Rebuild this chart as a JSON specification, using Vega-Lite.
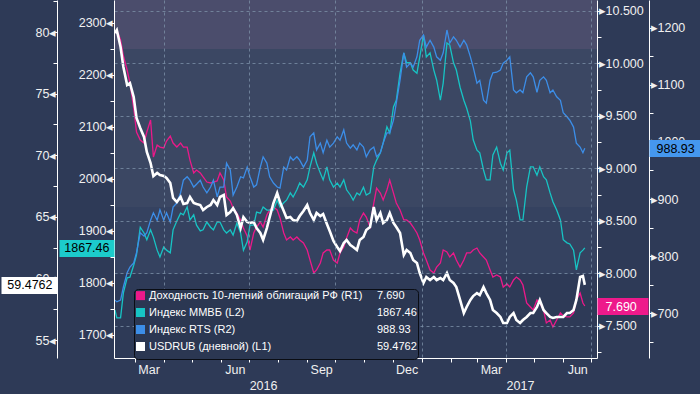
{
"$schema": "https://vega.github.io/schema/vega-lite/v6.json",
"width": 483, "height": 358,
"autosize": {"type": "none"},
"padding": {"left": 114, "right": 103, "top": 0, "bottom": 36},
"background": "#2e3a57",
"config": {
  "view": {"stroke": null},
  "font": "Liberation Sans",
  "axis": {"labelFont": "Liberation Sans", "labelFontSize": 12.5, "labelColor": "#f0f0f0", "domainColor": "#ffffff", "tickColor": "#ffffff", "labelOverlap": false, "labelFlush": false, "grid": false}
},
"datasets": {
"main": [
{"d":"2016-02-09","usd":79.92,"y10":10.288,"mmvb":1748,"rts":723},
{"d":"2016-02-11","usd":80.16,"y10":10.316,"mmvb":1733,"rts":720},
{"d":"2016-02-15","usd":78.78,"y10":10.221,"mmvb":1733,"rts":723},
{"d":"2016-02-18","usd":77.16,"y10":10.069,"mmvb":1781,"rts":746},
{"d":"2016-02-22","usd":75.70,"y10":9.936,"mmvb":1810,"rts":771},
{"d":"2016-02-25","usd":75.86,"y10":9.812,"mmvb":1811,"rts":781},
{"d":"2016-02-29","usd":74.72,"y10":9.574,"mmvb":1834,"rts":788},
{"d":"2016-03-03","usd":73.02,"y10":9.346,"mmvb":1854,"rts":806},
{"d":"2016-03-07","usd":72.21,"y10":9.270,"mmvb":1907,"rts":841},
{"d":"2016-03-11","usd":71.48,"y10":9.241,"mmvb":1896,"rts":835},
{"d":"2016-03-14","usd":70.26,"y10":9.346,"mmvb":1883,"rts":841},
{"d":"2016-03-18","usd":69.37,"y10":9.460,"mmvb":1902,"rts":863},
{"d":"2016-03-21","usd":68.31,"y10":9.108,"mmvb":1888,"rts":876},
{"d":"2016-03-25","usd":68.56,"y10":9.222,"mmvb":1863,"rts":863},
{"d":"2016-03-28","usd":68.39,"y10":9.203,"mmvb":1850,"rts":881},
{"d":"2016-04-01","usd":68.31,"y10":9.194,"mmvb":1869,"rts":863},
{"d":"2016-04-04","usd":68.15,"y10":9.260,"mmvb":1863,"rts":876},
{"d":"2016-04-08","usd":67.74,"y10":9.308,"mmvb":1858,"rts":860},
{"d":"2016-04-11","usd":66.53,"y10":9.241,"mmvb":1902,"rts":886},
{"d":"2016-04-15","usd":66.20,"y10":9.203,"mmvb":1919,"rts":893},
{"d":"2016-04-19","usd":66.61,"y10":9.241,"mmvb":1934,"rts":911},
{"d":"2016-04-22","usd":66.04,"y10":9.203,"mmvb":1931,"rts":933},
{"d":"2016-04-26","usd":66.12,"y10":9.203,"mmvb":1946,"rts":939},
{"d":"2016-04-29","usd":66.61,"y10":9.079,"mmvb":1921,"rts":933},
{"d":"2016-05-03","usd":66.12,"y10":8.956,"mmvb":1931,"rts":921},
{"d":"2016-05-06","usd":66.04,"y10":8.984,"mmvb":1911,"rts":926},
{"d":"2016-05-10","usd":65.96,"y10":8.956,"mmvb":1900,"rts":933},
{"d":"2016-05-13","usd":65.55,"y10":8.918,"mmvb":1902,"rts":921},
{"d":"2016-05-17","usd":65.80,"y10":8.870,"mmvb":1917,"rts":911},
{"d":"2016-05-21","usd":65.96,"y10":8.861,"mmvb":1907,"rts":921},
{"d":"2016-05-24","usd":66.36,"y10":8.870,"mmvb":1902,"rts":933},
{"d":"2016-05-28","usd":65.96,"y10":8.880,"mmvb":1917,"rts":904},
{"d":"2016-05-31","usd":66.61,"y10":8.956,"mmvb":1917,"rts":921},
{"d":"2016-06-04","usd":66.77,"y10":8.889,"mmvb":1902,"rts":921},
{"d":"2016-06-07","usd":65.15,"y10":8.727,"mmvb":1896,"rts":963},
{"d":"2016-06-11","usd":65.39,"y10":8.689,"mmvb":1902,"rts":951},
{"d":"2016-06-14","usd":65.71,"y10":8.623,"mmvb":1892,"rts":907},
{"d":"2016-06-18","usd":65.15,"y10":8.575,"mmvb":1915,"rts":921},
{"d":"2016-06-22","usd":64.09,"y10":8.509,"mmvb":1896,"rts":939},
{"d":"2016-06-25","usd":64.98,"y10":8.432,"mmvb":1863,"rts":937},
{"d":"2016-06-29","usd":64.58,"y10":8.356,"mmvb":1879,"rts":956},
{"d":"2016-07-02","usd":64.50,"y10":8.223,"mmvb":1911,"rts":939},
{"d":"2016-07-06","usd":64.58,"y10":8.385,"mmvb":1911,"rts":921},
{"d":"2016-07-09","usd":64.09,"y10":8.442,"mmvb":1936,"rts":925},
{"d":"2016-07-13","usd":63.69,"y10":8.490,"mmvb":1934,"rts":956},
{"d":"2016-07-16","usd":63.12,"y10":8.442,"mmvb":1946,"rts":974},
{"d":"2016-07-20","usd":64.09,"y10":8.556,"mmvb":1940,"rts":963},
{"d":"2016-07-23","usd":64.98,"y10":8.604,"mmvb":1940,"rts":939},
{"d":"2016-07-27","usd":66.12,"y10":8.632,"mmvb":1940,"rts":928},
{"d":"2016-07-31","usd":66.93,"y10":8.604,"mmvb":1959,"rts":921},
{"d":"2016-08-03","usd":66.20,"y10":8.528,"mmvb":1946,"rts":919},
{"d":"2016-08-07","usd":65.47,"y10":8.385,"mmvb":1954,"rts":956},
{"d":"2016-08-10","usd":64.90,"y10":8.318,"mmvb":1959,"rts":951},
{"d":"2016-08-14","usd":64.98,"y10":8.347,"mmvb":1973,"rts":974},
{"d":"2016-08-17","usd":64.74,"y10":8.318,"mmvb":1965,"rts":968},
{"d":"2016-08-21","usd":64.66,"y10":8.347,"mmvb":1979,"rts":974},
{"d":"2016-08-24","usd":65.06,"y10":8.318,"mmvb":1992,"rts":968},
{"d":"2016-08-28","usd":65.47,"y10":8.290,"mmvb":1984,"rts":956},
{"d":"2016-09-01","usd":65.96,"y10":8.223,"mmvb":1998,"rts":968},
{"d":"2016-09-04","usd":65.31,"y10":8.128,"mmvb":2023,"rts":1009},
{"d":"2016-09-08","usd":64.74,"y10":8.004,"mmvb":2050,"rts":1016},
{"d":"2016-09-11","usd":65.31,"y10":8.033,"mmvb":2030,"rts":986},
{"d":"2016-09-15","usd":65.06,"y10":8.099,"mmvb":2011,"rts":998},
{"d":"2016-09-18","usd":65.23,"y10":8.195,"mmvb":1998,"rts":981},
{"d":"2016-09-22","usd":64.42,"y10":8.223,"mmvb":2023,"rts":1003},
{"d":"2016-09-25","usd":63.85,"y10":8.223,"mmvb":1998,"rts":991},
{"d":"2016-09-29","usd":63.04,"y10":8.128,"mmvb":1984,"rts":998},
{"d":"2016-10-03","usd":62.55,"y10":8.099,"mmvb":1992,"rts":1009},
{"d":"2016-10-06","usd":62.22,"y10":8.195,"mmvb":1984,"rts":1003},
{"d":"2016-10-10","usd":62.87,"y10":8.252,"mmvb":1998,"rts":1021},
{"d":"2016-10-13","usd":63.12,"y10":8.337,"mmvb":1979,"rts":998},
{"d":"2016-10-17","usd":62.71,"y10":8.432,"mmvb":1969,"rts":989},
{"d":"2016-10-20","usd":62.55,"y10":8.404,"mmvb":1959,"rts":995},
{"d":"2016-10-24","usd":62.31,"y10":8.385,"mmvb":1973,"rts":986},
{"d":"2016-10-27","usd":63.12,"y10":8.509,"mmvb":1969,"rts":998},
{"d":"2016-10-31","usd":63.36,"y10":8.575,"mmvb":1984,"rts":991},
{"d":"2016-11-03","usd":63.93,"y10":8.537,"mmvb":1969,"rts":974},
{"d":"2016-11-07","usd":64.17,"y10":8.442,"mmvb":1973,"rts":986},
{"d":"2016-11-11","usd":65.80,"y10":8.670,"mmvb":2023,"rts":991},
{"d":"2016-11-14","usd":64.74,"y10":8.813,"mmvb":2036,"rts":974},
{"d":"2016-11-18","usd":65.31,"y10":8.765,"mmvb":2050,"rts":981},
{"d":"2016-11-21","usd":64.50,"y10":8.699,"mmvb":2069,"rts":998},
{"d":"2016-11-25","usd":64.74,"y10":8.794,"mmvb":2100,"rts":1016},
{"d":"2016-11-28","usd":65.31,"y10":8.889,"mmvb":2088,"rts":1016},
{"d":"2016-12-02","usd":64.50,"y10":8.765,"mmvb":2138,"rts":1038},
{"d":"2016-12-05","usd":64.17,"y10":8.670,"mmvb":2151,"rts":1068},
{"d":"2016-12-09","usd":63.69,"y10":8.604,"mmvb":2203,"rts":1108},
{"d":"2016-12-13","usd":61.90,"y10":8.509,"mmvb":2242,"rts":1156},
{"d":"2016-12-16","usd":62.31,"y10":8.509,"mmvb":2223,"rts":1131},
{"d":"2016-12-20","usd":62.06,"y10":8.480,"mmvb":2223,"rts":1138},
{"d":"2016-12-23","usd":61.49,"y10":8.442,"mmvb":2209,"rts":1131},
{"d":"2016-12-27","usd":61.25,"y10":8.385,"mmvb":2203,"rts":1149},
{"d":"2016-12-30","usd":60.44,"y10":8.318,"mmvb":2234,"rts":1178},
{"d":"2017-01-03","usd":59.63,"y10":8.195,"mmvb":2276,"rts":1187},
{"d":"2017-01-06","usd":60.11,"y10":8.128,"mmvb":2234,"rts":1166},
{"d":"2017-01-10","usd":59.87,"y10":8.033,"mmvb":2242,"rts":1178},
{"d":"2017-01-14","usd":60.11,"y10":8.004,"mmvb":2209,"rts":1166},
{"d":"2017-01-17","usd":59.87,"y10":8.061,"mmvb":2190,"rts":1149},
{"d":"2017-01-21","usd":60.03,"y10":8.099,"mmvb":2151,"rts":1143},
{"d":"2017-01-24","usd":59.87,"y10":8.223,"mmvb":2184,"rts":1156},
{"d":"2017-01-28","usd":60.44,"y10":8.204,"mmvb":2261,"rts":1196},
{"d":"2017-01-31","usd":59.87,"y10":8.157,"mmvb":2257,"rts":1173},
{"d":"2017-02-04","usd":59.63,"y10":8.195,"mmvb":2223,"rts":1184},
{"d":"2017-02-07","usd":59.30,"y10":8.128,"mmvb":2209,"rts":1178},
{"d":"2017-02-11","usd":58.25,"y10":8.061,"mmvb":2176,"rts":1166},
{"d":"2017-02-15","usd":57.19,"y10":8.128,"mmvb":2151,"rts":1178},
{"d":"2017-02-18","usd":57.68,"y10":8.195,"mmvb":2136,"rts":1170},
{"d":"2017-02-22","usd":58.25,"y10":8.195,"mmvb":2111,"rts":1149},
{"d":"2017-02-25","usd":58.57,"y10":8.223,"mmvb":2075,"rts":1131},
{"d":"2017-03-01","usd":58.81,"y10":8.242,"mmvb":2055,"rts":1103},
{"d":"2017-03-04","usd":58.65,"y10":8.195,"mmvb":2050,"rts":1108},
{"d":"2017-03-08","usd":59.30,"y10":8.157,"mmvb":2017,"rts":1073},
{"d":"2017-03-11","usd":58.81,"y10":8.128,"mmvb":1998,"rts":1068},
{"d":"2017-03-15","usd":58.25,"y10":8.033,"mmvb":1998,"rts":1108},
{"d":"2017-03-18","usd":57.44,"y10":7.966,"mmvb":2046,"rts":1121},
{"d":"2017-03-22","usd":57.19,"y10":7.985,"mmvb":2061,"rts":1122},
{"d":"2017-03-26","usd":56.87,"y10":7.966,"mmvb":2030,"rts":1126},
{"d":"2017-03-29","usd":56.38,"y10":7.871,"mmvb":2017,"rts":1138},
{"d":"2017-04-02","usd":56.38,"y10":7.900,"mmvb":2050,"rts":1143},
{"d":"2017-04-05","usd":56.87,"y10":7.871,"mmvb":2055,"rts":1149},
{"d":"2017-04-09","usd":57.19,"y10":7.938,"mmvb":1979,"rts":1091},
{"d":"2017-04-12","usd":56.62,"y10":7.966,"mmvb":1959,"rts":1086},
{"d":"2017-04-16","usd":56.38,"y10":7.938,"mmvb":1921,"rts":1091},
{"d":"2017-04-19","usd":56.62,"y10":7.890,"mmvb":1921,"rts":1086},
{"d":"2017-04-23","usd":56.87,"y10":7.719,"mmvb":1984,"rts":1114},
{"d":"2017-04-27","usd":57.19,"y10":7.681,"mmvb":2023,"rts":1121},
{"d":"2017-04-30","usd":57.19,"y10":7.652,"mmvb":2023,"rts":1114},
{"d":"2017-05-04","usd":57.68,"y10":7.747,"mmvb":2007,"rts":1087},
{"d":"2017-05-07","usd":58.25,"y10":7.719,"mmvb":2023,"rts":1108},
{"d":"2017-05-11","usd":57.44,"y10":7.652,"mmvb":2004,"rts":1114},
{"d":"2017-05-14","usd":57.19,"y10":7.529,"mmvb":1998,"rts":1108},
{"d":"2017-05-18","usd":56.87,"y10":7.557,"mmvb":1973,"rts":1086},
{"d":"2017-05-21","usd":56.79,"y10":7.490,"mmvb":1956,"rts":1091},
{"d":"2017-05-25","usd":56.87,"y10":7.557,"mmvb":1940,"rts":1079},
{"d":"2017-05-29","usd":56.87,"y10":7.624,"mmvb":1921,"rts":1073},
{"d":"2017-06-01","usd":56.87,"y10":7.595,"mmvb":1883,"rts":1051},
{"d":"2017-06-05","usd":57.19,"y10":7.586,"mmvb":1877,"rts":1044},
{"d":"2017-06-08","usd":57.19,"y10":7.586,"mmvb":1875,"rts":1038},
{"d":"2017-06-12","usd":57.44,"y10":7.624,"mmvb":1863,"rts":1026},
{"d":"2017-06-15","usd":58.25,"y10":7.747,"mmvb":1825,"rts":998},
{"d":"2017-06-19","usd":60.11,"y10":7.814,"mmvb":1858,"rts":991},
{"d":"2017-06-22","usd":60.19,"y10":7.719,"mmvb":1863,"rts":981},
{"d":"2017-06-24","usd":59.4762,"y10":7.690,"mmvb":1867.46,"rts":988.93}
],
"last": [{"d":"2017-06-24","usd":59.4762,"y10":7.690,"mmvb":1867.46,"rts":988.93}],
"bands": [{"b": "a", "lo": 10.136, "hi": 10.7}, {"b": "b", "lo": 8.632, "hi": 10.136}, {"b": "c", "lo": 7.995, "hi": 8.632}]
},
"data": {"name": "main"},
"encoding": {
  "x": {"field": "d", "type": "temporal",
    "scale": {"domain": [{"year": 2016, "month": 2, "date": 8}, {"year": 2017, "month": 7, "date": 7}]},
    "axis": {"title": null, "orient": "bottom", "zindex": 1, "tickSize": 4, "tickCount": {"interval": "month", "step": 1},
      "labelPadding": 1, "labelOffset": 14, "labelAlign": "center", "labelBaseline": "top", "labelLineHeight": 16,
      "labelExpr": "(month(datum.value)==2||month(datum.value)==5||month(datum.value)==8||month(datum.value)==11) ? timeFormat(datum.value,'%b') : (((month(datum.value)==6 && year(datum.value)==2016) || (month(datum.value)==3 && year(datum.value)==2017)) ? ['', timeFormat(datum.value,'%Y')] : '')",
      "grid": true, "gridColor": "#7a8ea6", "gridDash": [3, 3],
      "gridOpacity": {"condition": {"test": "month(datum.value) % 3 == 0", "value": 0.8}, "value": 0}}}
},
"layer": [
  {"data": {"name": "bands"}, "mark": {"type": "rect", "strokeWidth": 0},
   "encoding": {"x": null, "y": {"field": "lo", "type": "quantitative", "scale": {"domain": [7.1955, 10.602], "nice": false, "zero": false}, "axis": null}, "y2": {"field": "hi"},
     "fill": {"field": "b", "type": "nominal", "scale": {"domain": ["a", "b", "c"], "range": ["#4b4d6c", "#3b4763", "#354260"]}, "legend": null}}},
  {"mark": {"type": "line", "strokeWidth": 1.3},
   "encoding": {
     "y": {"field": "y10", "type": "quantitative", "scale": {"domain": [7.1955, 10.602], "nice": false, "zero": false},
       "axis": {"title": null, "orient": "right", "zindex": 1, "values": [7.25, 7.5, 7.75, 8, 8.25, 8.5, 8.75, 9, 9.25, 9.5, 9.75, 10, 10.25, 10.5],
         "tickSize": 4, "labelPadding": -3, "labelAlign": "left",
         "labelExpr": "datum.value % 0.5 == 0 ? '▸' + format(datum.value, '.3f') : ''",
         "grid": true, "gridColor": "#7a8ea6", "gridDash": [3, 3],
         "gridOpacity": {"condition": {"test": "datum.value % 0.5 == 0", "value": 0.8}, "value": 0}}},
     "color": {"datum": "Доходность 10-летний облигаций РФ (R1)", "type": "nominal",
       "scale": {"domain": ["Доходность 10-летний облигаций РФ (R1)", "Индекс ММВБ (L2)", "Индекс RTS (R2)", "USDRUB (дневной) (L1)", "7.690", "1867.46", "988.93", "59.4762"],
                 "range": ["#ec198a", "#17c4c4", "#3c8ee8", "#ffffff", "transparent", "transparent", "transparent", "transparent"]},
       "legend": {"title": null, "orient": "none", "legendX": 20, "legendY": 289, "columns": 2, "symbolType": "square", "symbolSize": 20.25, "symbolStrokeWidth": 4.5,
         "labelColor": "#ffffff", "labelFont": "Liberation Sans", "labelFontSize": 11, "labelLimit": 400, "labelOffset": 3,
         "fillColor": "#2b3752", "strokeColor": "#0a0d14", "cornerRadius": 4, "padding": 1, "rowPadding": -7, "columnPadding": -18, "zindex": 2}}}},
  {"mark": {"type": "line", "strokeWidth": 1.3},
   "encoding": {
     "y": {"field": "mmvb", "type": "quantitative", "scale": {"domain": [1655.8, 2343.6], "nice": false, "zero": false},
       "axis": {"title": null, "orient": "left", "zindex": 1, "values": [1700, 1750, 1800, 1850, 1900, 1950, 2000, 2050, 2100, 2150, 2200, 2250, 2300],
         "tickSize": 4, "labelPadding": -3,
         "labelExpr": "datum.value % 100 == 0 ? datum.value + '◂' : ''"}},
     "color": {"datum": "Индекс ММВБ (L2)", "type": "nominal", "legend": null}}},
  {"mark": {"type": "line", "strokeWidth": 1.3},
   "encoding": {
     "y": {"field": "rts", "type": "quantitative", "scale": {"domain": [621.7, 1248.5], "nice": false, "zero": false},
       "axis": {"title": null, "orient": "right", "offset": 52, "zindex": 1, "values": [650, 700, 750, 800, 850, 900, 950, 1000, 1050, 1100, 1150, 1200],
         "tickSize": 4, "labelPadding": -3, "labelAlign": "left",
         "labelExpr": "datum.value % 100 == 0 ? '▸' + datum.value : ''"}},
     "color": {"datum": "Индекс RTS (R2)", "type": "nominal", "legend": null}}},
  {"mark": {"type": "line", "strokeWidth": 2.6},
   "encoding": {
     "y": {"field": "usd", "type": "quantitative", "scale": {"domain": [53.54, 82.6], "nice": false, "zero": false},
       "axis": {"title": null, "orient": "left", "offset": 57, "zindex": 1, "values": [55, 57.5, 60, 62.5, 65, 67.5, 70, 72.5, 75, 77.5, 80, 82.5],
         "tickSize": 4, "labelPadding": -3,
         "labelExpr": "datum.value % 5 == 0 ? datum.value + '◂' : ''"}},
     "color": {"datum": "USDRUB (дневной) (L1)", "type": "nominal", "legend": null}}},
  {"data": {"name": "last"}, "mark": {"type": "point", "opacity": 0},
   "encoding": {"y": {"field": "usd", "type": "quantitative", "scale": {"domain": [53.54, 82.6], "nice": false, "zero": false},
     "axis": {"title": null, "orient": "left", "offset": 57, "zindex": 2, "values": [59.4762], "format": ".4f", "domain": false,
       "tickSize": 56, "tickWidth": 17, "tickColor": "#ffffff", "labelColor": "#000000", "labelPadding": -51, "labelFontSize": 12.5}}}},
  {"data": {"name": "last"}, "mark": {"type": "point", "opacity": 0},
   "encoding": {"y": {"field": "mmvb", "type": "quantitative", "scale": {"domain": [1655.8, 2343.6], "nice": false, "zero": false},
     "axis": {"title": null, "orient": "left", "zindex": 2, "values": [1867.46], "format": ".2f", "domain": false,
       "tickSize": 55, "tickWidth": 17, "tickColor": "#1ccbcb", "labelColor": "#000000", "labelPadding": -50, "labelFontSize": 12.5}}}},
  {"data": {"name": "last"}, "mark": {"type": "point", "opacity": 0},
   "encoding": {"y": {"field": "y10", "type": "quantitative", "scale": {"domain": [7.1955, 10.602], "nice": false, "zero": false},
     "axis": {"title": null, "orient": "right", "zindex": 2, "values": [7.69], "format": ".3f", "domain": false,
       "tickSize": 51, "tickWidth": 17, "tickColor": "#ee1a8b", "labelColor": "#ffffff", "labelAlign": "left", "labelPadding": -43, "labelFontSize": 12.5}}}},
  {"data": {"name": "last"}, "mark": {"type": "point", "opacity": 0},
   "encoding": {"y": {"field": "rts", "type": "quantitative", "scale": {"domain": [621.7, 1248.5], "nice": false, "zero": false},
     "axis": {"title": null, "orient": "right", "offset": 52, "zindex": 2, "values": [988.93], "format": ".2f", "domain": false,
       "tickSize": 52, "tickWidth": 17, "tickColor": "#4597ee", "labelColor": "#000000", "labelAlign": "left", "labelPadding": -45, "labelFontSize": 12.5}}}}
],
"resolve": {"scale": {"y": "independent"}, "axis": {"y": "independent"}}
}
